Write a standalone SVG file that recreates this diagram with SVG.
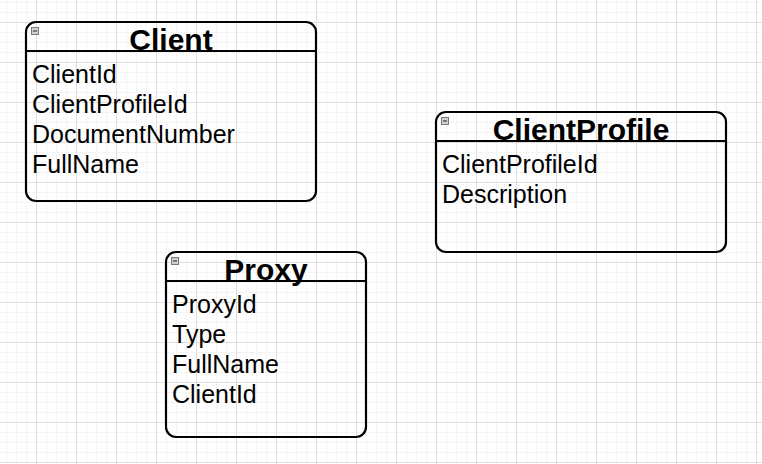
<svg xmlns="http://www.w3.org/2000/svg" width="762" height="464" viewBox="0 0 762 464">
<defs>
<style>
.box{fill:none;stroke:#000;stroke-width:2.2}
.hdr{stroke:#000;stroke-width:2.2}
.title{font-family:"Liberation Sans",Arial,sans-serif;font-weight:bold;font-size:30px;fill:#000;text-anchor:middle}
.fld{font-family:"Liberation Sans",Arial,sans-serif;font-size:25px;fill:#000}
.ico{fill:#d0d0d0;stroke:#7a7a7a;stroke-width:1}
.icm{stroke:#222;stroke-width:1}
</style>
<pattern id="minor" patternUnits="userSpaceOnUse" x="6" y="2" width="10" height="10">
<path d="M0.5 0V10M0 0.5H10" stroke="#f4f4f4" stroke-width="1" fill="none"/>
</pattern>
<pattern id="major" patternUnits="userSpaceOnUse" x="36" y="22" width="40" height="40">
<path d="M0.5 0V40M0 0.5H40" stroke="#dedede" stroke-width="1" fill="none"/>
</pattern>
</defs>
<rect width="762" height="464" fill="#fff"/>
<rect width="762" height="464" fill="url(#minor)"/>
<rect width="762" height="464" fill="url(#major)"/>
<g id="connectors"></g>
<g id="Client">
<rect class="box" x="26" y="22" width="290" height="179" rx="10"/>
<line class="hdr" x1="26" y1="51" x2="316" y2="51"/>
<rect class="ico" x="31.5" y="27.5" width="7" height="7"/>
<line class="icm" x1="33" y1="31" x2="37" y2="31"/>
<text class="title" x="171" y="50">Client</text>
<text class="fld" x="32" y="83">ClientId</text>
<text class="fld" x="32" y="113">ClientProfileId</text>
<text class="fld" x="32" y="143">DocumentNumber</text>
<text class="fld" x="32" y="173">FullName</text>
</g>
<g id="ClientProfile">
<rect class="box" x="436" y="112" width="290" height="140" rx="10"/>
<line class="hdr" x1="436" y1="141" x2="726" y2="141"/>
<rect class="ico" x="441.5" y="117.5" width="7" height="7"/>
<line class="icm" x1="443" y1="121" x2="447" y2="121"/>
<text class="title" x="581" y="140">ClientProfile</text>
<text class="fld" x="442" y="173">ClientProfileId</text>
<text class="fld" x="442" y="203">Description</text>
</g>
<g id="Proxy">
<rect class="box" x="166" y="252" width="200" height="185" rx="10"/>
<line class="hdr" x1="166" y1="281" x2="366" y2="281"/>
<rect class="ico" x="171.5" y="257.5" width="7" height="7"/>
<line class="icm" x1="173" y1="261" x2="177" y2="261"/>
<text class="title" x="266" y="280">Proxy</text>
<text class="fld" x="172" y="313">ProxyId</text>
<text class="fld" x="172" y="343">Type</text>
<text class="fld" x="172" y="373">FullName</text>
<text class="fld" x="172" y="403">ClientId</text>
</g>
</svg>
